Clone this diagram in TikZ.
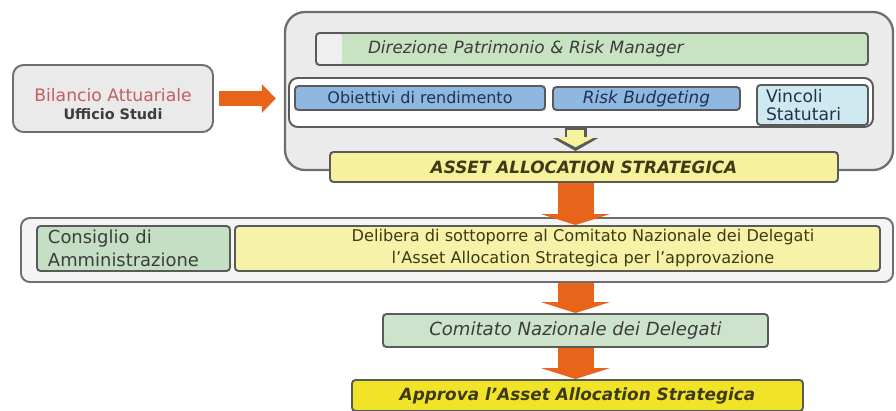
\documentclass[tikz,border=0pt]{standalone}
\usepackage{fontspec}
\setmainfont{DejaVu Sans}
\usepackage{tikz}
\usetikzlibrary{arrows.meta}
\definecolor{outerfill}{HTML}{EBEBEB}
\definecolor{outerline}{HTML}{6E6E6E}
\definecolor{boxline}{HTML}{5A5A5A}
\definecolor{dirgreen}{HTML}{C8E3C2}
\definecolor{stripwhite}{HTML}{EFEFEF}
\definecolor{budgetblue}{HTML}{8EB8E1}
\definecolor{lightcyan}{HTML}{CFE9F1}
\definecolor{paleyellow}{HTML}{F6F29C}
\definecolor{delibyellow}{HTML}{F6F3A8}
\definecolor{strongyellow}{HTML}{F1E428}
\definecolor{boardgreen}{HTML}{C4DFC3}
\definecolor{comgreen}{HTML}{CDE3CB}
\definecolor{bandfill}{HTML}{F4F4F4}
\definecolor{bilfill}{HTML}{EAEAEA}
\definecolor{arroworange}{HTML}{E8641B}
\definecolor{textgray}{HTML}{3C3C3C}
\definecolor{textnavy}{HTML}{22324E}
\definecolor{textred}{HTML}{C45E5E}
\definecolor{textolive}{HTML}{3E3A14}
\newcommand{\pxu}{0.02cm}
\tikzset{wh/.style 2 args={minimum width=#1*\pxu, minimum height=#2*\pxu}}
\tikzstyle{box}=[draw=boxline, line width=1.1pt, rounded corners=2pt, inner sep=0pt]
\tikzstyle{greenbox}=[box, fill=dirgreen, text=textgray, font=\fontsize{9.6}{11}\itshape]
\tikzstyle{bluebox}=[box, fill=budgetblue, text=textnavy, font=\fontsize{9.1}{10}\selectfont]
\tikzstyle{yellowbox}=[box, fill=paleyellow, text=textolive, font=\fontsize{9.6}{11}\bfseries\itshape]
\tikzstyle{orangearrow}=[color=arroworange, line width=0.72cm, -{Triangle[width=1.38cm, length=0.22cm]}]

\begin{document}
\begin{tikzpicture}[x=0.02cm, y=-0.02cm]
	\useasboundingbox (0, 0) rectangle (896, 410);
	% upper block
	\begin{scope}
		\node (outer) at (589, 91)[box, wh={608}{158}, fill=outerfill, draw=outerline, line width=1.3pt, rounded corners=0.4cm] {};
		\node (dir) at (592, 49)[greenbox, wh={552}{32}, inner xsep=52*\pxu, text width=448*\pxu, align=left,
			path picture={\fill[stripwhite] (path picture bounding box.north west) rectangle ([xshift=26*\pxu]path picture bounding box.south west);}] {Direzione Patrimonio \& Risk Manager};
		\node (inner) at (581, 102.5)[box, wh={584}{49}, fill=white, rounded corners=5pt] {};
		\node (obiettivi) at (420, 98)[bluebox, wh={250}{24}] {Obiettivi di rendimento};
		\node (risk) at (646.5, 98.5)[bluebox, wh={187}{23}, font=\fontsize{9.6}{10}\itshape] {Risk Budgeting};
		\node (vincoli) at (812.5, 105)[bluebox, fill=lightcyan, wh={111}{40}, inner xsep=9*\pxu, text width=93*\pxu, align=left, font=\fontsize{9.8}{10}\selectfont] {Vincoli\\Statutari};
		\node (asset) at (584, 167)[yellowbox, wh={508}{30}] {ASSET ALLOCATION STRATEGICA};
		\node (bilancio) at (113, 98.5)[box, wh={200}{67}, fill=bilfill, draw=outerline, rounded corners=6pt, align=center, font=\fontsize{8.2}{9.5}\selectfont] {\rule{0pt}{14pt}\textcolor{textred}{\fontsize{9.8}{11}\selectfont Bilancio Attuariale}\\[1pt]\textcolor{textgray}{\bfseries Ufficio Studi}};
	\end{scope}
	% lower block
	\begin{scope}
		\node (band) at (457, 250)[box, wh={872}{64}, fill=bandfill, draw=outerline, rounded corners=5pt] {};
		\node (consiglio) at (133.5, 248.5)[box, wh={193}{45}, fill=boardgreen, inner xsep=11*\pxu, text width=171*\pxu, align=left, text=textgray, font=\fontsize{10.2}{13}\selectfont] {Consiglio di\\Amministrazione};
		\node (delibera) at (557.5, 248.5)[box, wh={645}{45}, fill=delibyellow, align=center, text=textolive, font=\fontsize{9.2}{12.5}\selectfont] {\hspace*{29pt}Delibera di sottoporre al Comitato Nazionale dei Delegati\\\hspace*{29pt}l'Asset Allocation Strategica per l'approvazione};
		\node (comitato) at (575.5, 330.5)[box, wh={385}{33}, fill=comgreen, text=textgray, font=\fontsize{10.3}{12}\itshape] {Comitato Nazionale dei Delegati};
		\node (approva) at (577.5, 395.5)[yellowbox, wh={451}{31}, fill=strongyellow] {Approva l'Asset Allocation Strategica};
	\end{scope}
	% arrows
	\begin{scope}
		\draw [color=arroworange, line width=0.3cm, -{Triangle[width=0.56cm, length=0.28cm]}, shorten <=5*\pxu, shorten >=8*\pxu] (bilancio.east) -- (bilancio.east -| outer.west);
		\draw [color=boxline, line width=0.44cm, -{Triangle[width=0.9cm, length=0.26cm]}] (inner.south -| comitato.north) -- (asset.north -| comitato.north);
		\draw [color=paleyellow, line width=0.34cm, -{Triangle[width=0.76cm, length=0.2cm]}, shorten <=1pt, shorten >=2.2pt] (inner.south -| comitato.north) -- (asset.north -| comitato.north);
		\draw [orangearrow] (asset.south -| comitato.north) -- (delibera.north -| comitato.north);
		\draw [orangearrow] (band.south -| comitato.north) -- (comitato.north);
		\draw [orangearrow] (comitato.south) -- (approva.north -| comitato.south);
	\end{scope}
\end{tikzpicture}
\end{document}
